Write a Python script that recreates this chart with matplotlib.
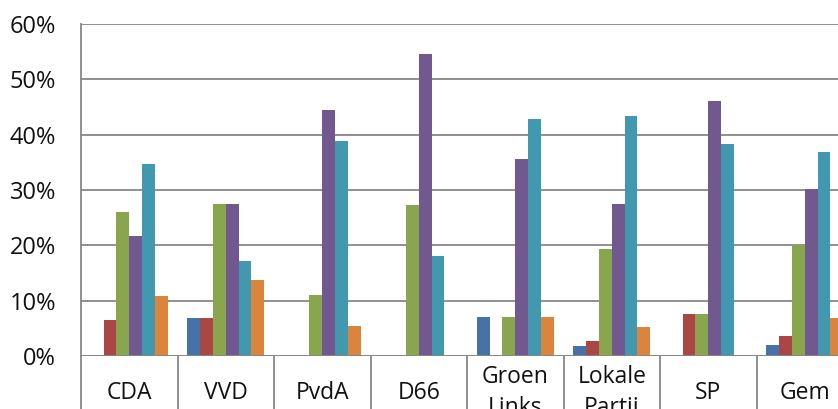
import matplotlib
matplotlib.use("Agg")
import matplotlib.pyplot as plt
import numpy as np
from matplotlib.transforms import blended_transform_factory

plt.rcParams['font.family'] = ['Open Sans', 'DejaVu Sans']

categories = ["CDA", "VVD", "PvdA", "D66", "Groen\nLinks", "Lokale\nPartij", "SP", "Gem"]
s1 = [0.0, 6.8, 0.0, 0.0, 7.05, 1.75, 0.0, 2.0]
s2 = [6.5, 6.8, 0.0, 0.0, 0.0, 2.65, 7.65, 3.6]
s3 = [26.0, 27.5, 11.0, 27.2, 7.05, 19.4, 7.65, 20.0]
s4 = [21.7, 27.5, 44.4, 54.5, 35.6, 27.4, 46.1, 30.2]
s5 = [34.7, 17.2, 38.8, 18.1, 42.8, 43.3, 38.4, 36.8]
s6 = [10.8, 13.7, 5.5, 0.0, 7.05, 5.2, 0.0, 6.9]
series = [s1, s2, s3, s4, s5, s6]
colors = ["#4672A8", "#AA4643", "#89A54E", "#71588F", "#4198AF", "#DB843D"]
yticks = [0, 10, 20, 30, 40, 50, 60]

fig = plt.figure(figsize=(8.38, 4.09), dpi=100)
W, H = 838, 409
left, right = 81, 853
top, zero = 24, 356
ax = fig.add_axes([left / W, 1 - zero / H, (right - left) / W, (zero - top) / H])

n = len(categories)
x = np.arange(n)
bw = 0.133
for i, (vals, c) in enumerate(zip(series, colors)):
    ax.bar(x + (i - 2.5) * bw, vals, width=bw, color=c, zorder=3)

ax.set_xlim(-0.5, n - 0.5)
ax.set_ylim(0, 60)
ax.set_yticks(yticks)
ax.set_yticklabels([f"{t}%" for t in yticks], fontsize=17, color="#111111")
ax.tick_params(axis='y', length=0, pad=18)
ax.grid(axis='y', color="#878787", linewidth=1.3, zorder=1)
for s in ["top", "right", "bottom"]:
    ax.spines[s].set_visible(False)
ax.spines["left"].set_color("#878787")
ax.spines["left"].set_linewidth(1.3)
ax.axhline(0, color="#878787", linewidth=1.3, zorder=4)

ax.set_xticks([])
trans = blended_transform_factory(ax.transData, ax.transAxes)
# category separators extending below the axis
for b in np.arange(-0.5, n, 1.0):
    ax.plot([b, b], [0, -0.3], transform=trans, color="#878787", linewidth=1.3, clip_on=False)
for xi, lab in zip(x, categories):
    ax.text(xi, -0.11, lab, transform=trans, ha='center', va='center', fontsize=16.5,
            linespacing=1.4, multialignment='center', color="#111111", clip_on=False)

fig.savefig("out.png", dpi=100)
